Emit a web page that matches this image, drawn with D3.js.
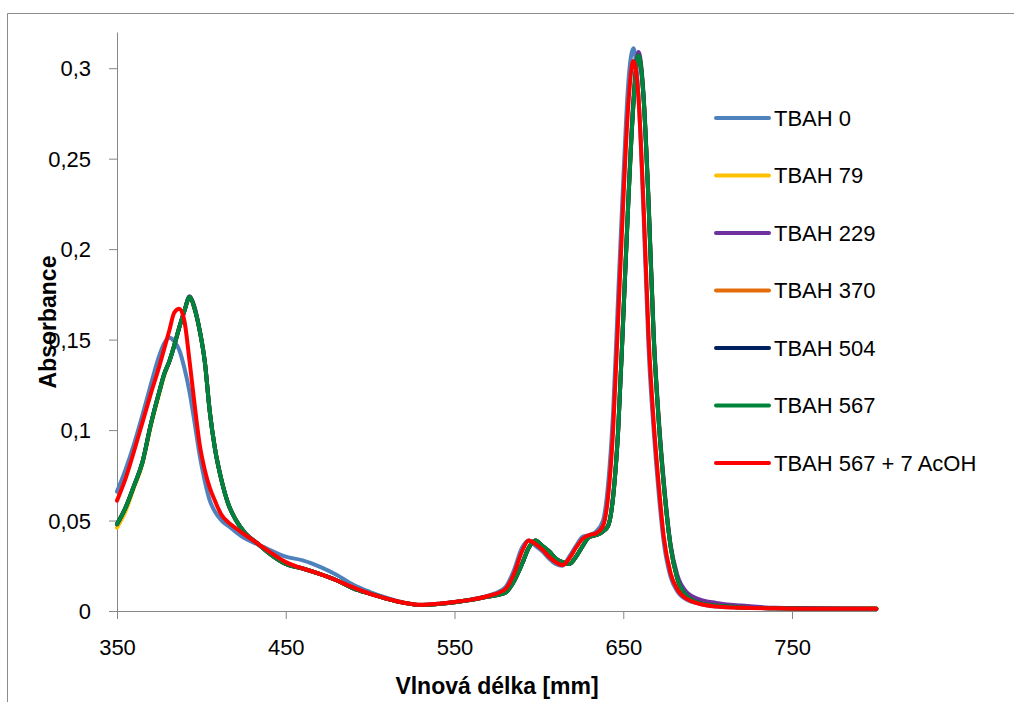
<!DOCTYPE html>
<meta charset="utf-8">
<style>
  body { margin: 0; background: #fff; }
  svg { font-family: "Liberation Sans", Arial, sans-serif; }
</style>
<svg width="1014" height="702"></svg>
<script src="https://d3js.org/d3.v7.min.js"></script>
<script>

// wavelength grid [nm]
var wavelength = [350,355,360,365,370,375,378,381,384,387,390,393,396,399,402,405,408,412,416,420,426,433,440,
  450,460,470,480,490,500,510,520,530,540,550,560,570,580,
  585,590,594,598,602,606,610,614,618,622,626,630,634,638,
  641,644,647,650,653,656,659,662,665,668,671,674,
  678,682,688,695,705,720,740,760,780,800];

var tbah0 = [.066,.078,.092,.108,.125,.141,.148,.151,.149,.144,.134,.121,.104,.086,.072,.061,.055,.050,.047,.044,.040,.037,.034,
  .030,.028,.0245,.020,.0145,.0105,.0072,.0047,.0034,.0040,.0050,.0064,.0085,.013,
  .022,.035,.039,.036,.033,.029,.026,.025,.030,.036,.041,.042,.044,.050,
  .070,.110,.175,.238,.292,.311,.285,.220,.145,.100,.065,.038,
  .019,.011,.006,.004,.0025,.002,.0015,.0015,.0012,.0012];

var tbah79 = [.046,.055,.068,.081,.102,.120,.130,.138,.147,.157,.166,.173,.167,.155,.138,.110,.090,.072,.059,.051,.043,.0375,.032,
  .026,.0235,.0205,.017,.0125,.0095,.0067,.0045,.0033,.0038,.0048,.0062,.0080,.010,
  .016,.026,.035,.039,.036,.033,.029,.027,.026,.030,.036,.041,.042,.044,
  .047,.063,.101,.163,.227,.281,.308,.285,.226,.153,.106,.071,
  .036,.018,.008,.0045,.003,.002,.0016,.0014,.0013,.0015];

var tbah229 = [.048,.057,.069,.082,.103,.121,.131,.138,.147,.157,.166,.174,.168,.155,.138,.110,.090,.072,.059,.051,.043,.0375,.032,
  .026,.0235,.0205,.017,.0125,.0095,.0067,.0045,.0033,.0038,.0048,.0062,.0080,.010,
  .016,.026,.035,.039,.036,.033,.029,.027,.026,.030,.036,.041,.042,.044,
  .047,.064,.101,.163,.228,.283,.309,.286,.227,.154,.107,.072,
  .037,.020,.010,.0065,.0045,.003,.0018,.0016,.0014,.0013];

var tbah370 = [.048,.057,.069,.082,.103,.121,.131,.138,.147,.157,.166,.1735,.167,.155,.138,.110,.090,.072,.059,.051,.043,.0375,.032,
  .026,.0235,.0205,.017,.0125,.0095,.0067,.0045,.0033,.0038,.0048,.0062,.0080,.010,
  .016,.026,.035,.039,.036,.033,.029,.027,.026,.030,.036,.041,.042,.044,
  .047,.063,.100,.162,.226,.280,.307,.284,.225,.152,.105,.070,
  .036,.018,.008,.0045,.003,.002,.0015,.0013,.0012,.0012];

var tbah504 = [.048,.057,.069,.082,.103,.121,.131,.138,.147,.157,.166,.1735,.167,.155,.138,.110,.090,.072,.059,.051,.043,.0375,.032,
  .026,.0235,.0205,.017,.0125,.0095,.0067,.0045,.0033,.0038,.0048,.0062,.0080,.010,
  .016,.026,.035,.039,.036,.033,.029,.027,.026,.030,.036,.041,.042,.044,
  .047,.063,.100,.162,.226,.280,.307,.284,.225,.152,.105,.070,
  .036,.018,.008,.0045,.003,.002,.0015,.0013,.0012,.0012];

var tbah567 = [.048,.057,.069,.082,.103,.121,.131,.138,.147,.157,.166,.1735,.167,.155,.138,.110,.090,.072,.059,.051,.043,.0375,.032,
  .026,.0235,.0205,.017,.0125,.0095,.0067,.0045,.0033,.0038,.0048,.0062,.0080,.010,
  .016,.026,.035,.039,.036,.033,.029,.027,.026,.030,.036,.041,.042,.044,
  .047,.063,.100,.162,.226,.280,.307,.284,.225,.152,.105,.070,
  .036,.018,.008,.0045,.003,.002,.0015,.0013,.0012,.0012];

var tbah567acoh = [.061,.073,.088,.104,.120,.135,.145,.155,.165,.167,.160,.138,.114,.092,.078,.068,.061,.053,.049,.046,.042,.0375,.033,
  .027,.0235,.0205,.017,.013,.0095,.0068,.0046,.0034,.0040,.0050,.0063,.0083,.012,
  .020,.033,.039,.037,.034,.030,.027,.0254,.029,.035,.040,.042,.043,.047,
  .063,.100,.162,.226,.280,.304,.284,.225,.152,.105,.070,.041,
  .021,.012,.0065,.004,.0025,.0018,.0015,.0013,.0012,.0012];

var seriesNames = ["TBAH 0", "TBAH 79", "TBAH 229", "TBAH 370", "TBAH 504", "TBAH 567", "TBAH 567 + 7 AcOH"];
var seriesValues = [tbah0, tbah79, tbah229, tbah370, tbah504, tbah567, tbah567acoh];
var seriesColors = ["#4f81bd", "#ffc000", "#7030a0", "#e46c0a", "#002060", "#00843d", "#ff0000"];

var xTicks = [350, 450, 550, 650, 750];
var yTicks = [0, 0.05, 0.1, 0.15, 0.2, 0.25, 0.3];

var svg = d3.select("svg");
var axisColor = "#868686";

var x = d3.scaleLinear().domain([350, 800]).range([117, 876.4]),
    y = d3.scaleLinear().domain([0, 0.32]).range([611, 32]);

// chart area border (partly cut off)
svg.append("path")
  .attr("d", "M7.5,702V13.5H1014")
  .attr("fill", "none")
  .attr("stroke", "#8c8c8c");

var yAxis = svg.append("g")
  .attr("transform", "translate(117,0)")
  .call(d3.axisLeft(y).tickValues(yTicks).tickSize(8).tickSizeOuter(0).tickPadding(18)
    .tickFormat(function(d){ return String(d).replace(".", ","); }));

var xAxis = svg.append("g")
  .attr("transform", "translate(0,611)")
  .call(d3.axisBottom(x).tickValues(xTicks).tickSize(8).tickSizeOuter(0).tickPadding(20)
    .tickFormat(d3.format("d")));

[xAxis, yAxis].forEach(function(g){
  g.attr("font-family", null).attr("font-size", null);
  g.select(".domain").attr("stroke", axisColor);
  g.selectAll(".tick line").attr("stroke", axisColor);
  g.selectAll(".tick text").attr("fill", "#000").style("font-size", "22px");
});
yAxis.selectAll(".tick text").attr("dy", "0.35em");
xAxis.selectAll(".tick text").attr("dy", "0.71em");

// spectra
var line = d3.line()
  .x(function(d, i){ return x(wavelength[i]); })
  .y(function(d){ return y(d); })
  .curve(d3.curveMonotoneX);

svg.append("g").selectAll("path")
  .data(seriesValues)
  .join("path")
  .attr("d", line)
  .attr("fill", "none")
  .attr("stroke", function(d, i){ return seriesColors[i]; })
  .attr("stroke-width", 4)
  .attr("stroke-linejoin", "round")
  .attr("stroke-linecap", "round");

// axis titles
svg.append("text")
  .attr("x", 497).attr("y", 694)
  .attr("text-anchor", "middle")
  .style("font-weight", "bold").style("font-size", "23px")
  .text("Vlnová délka [mm]");

svg.append("text")
  .attr("transform", "translate(56,322) rotate(-90)")
  .attr("text-anchor", "middle")
  .style("font-weight", "bold").style("font-size", "23px")
  .text("Absorbance");

// legend
var legend = svg.append("g").selectAll("g")
  .data(seriesNames)
  .join("g")
  .attr("transform", function(d, i){ return "translate(716," + (118 + i * 57.5) + ")"; });

legend.append("line")
  .attr("x1", 0).attr("x2", 53)
  .attr("stroke", function(d, i){ return seriesColors[i]; })
  .attr("stroke-width", 4)
  .attr("stroke-linecap", "round");

legend.append("text")
  .attr("x", 58).attr("dy", "0.35em")
  .style("font-size", "22px")
  .text(function(d){ return d; });

</script>
